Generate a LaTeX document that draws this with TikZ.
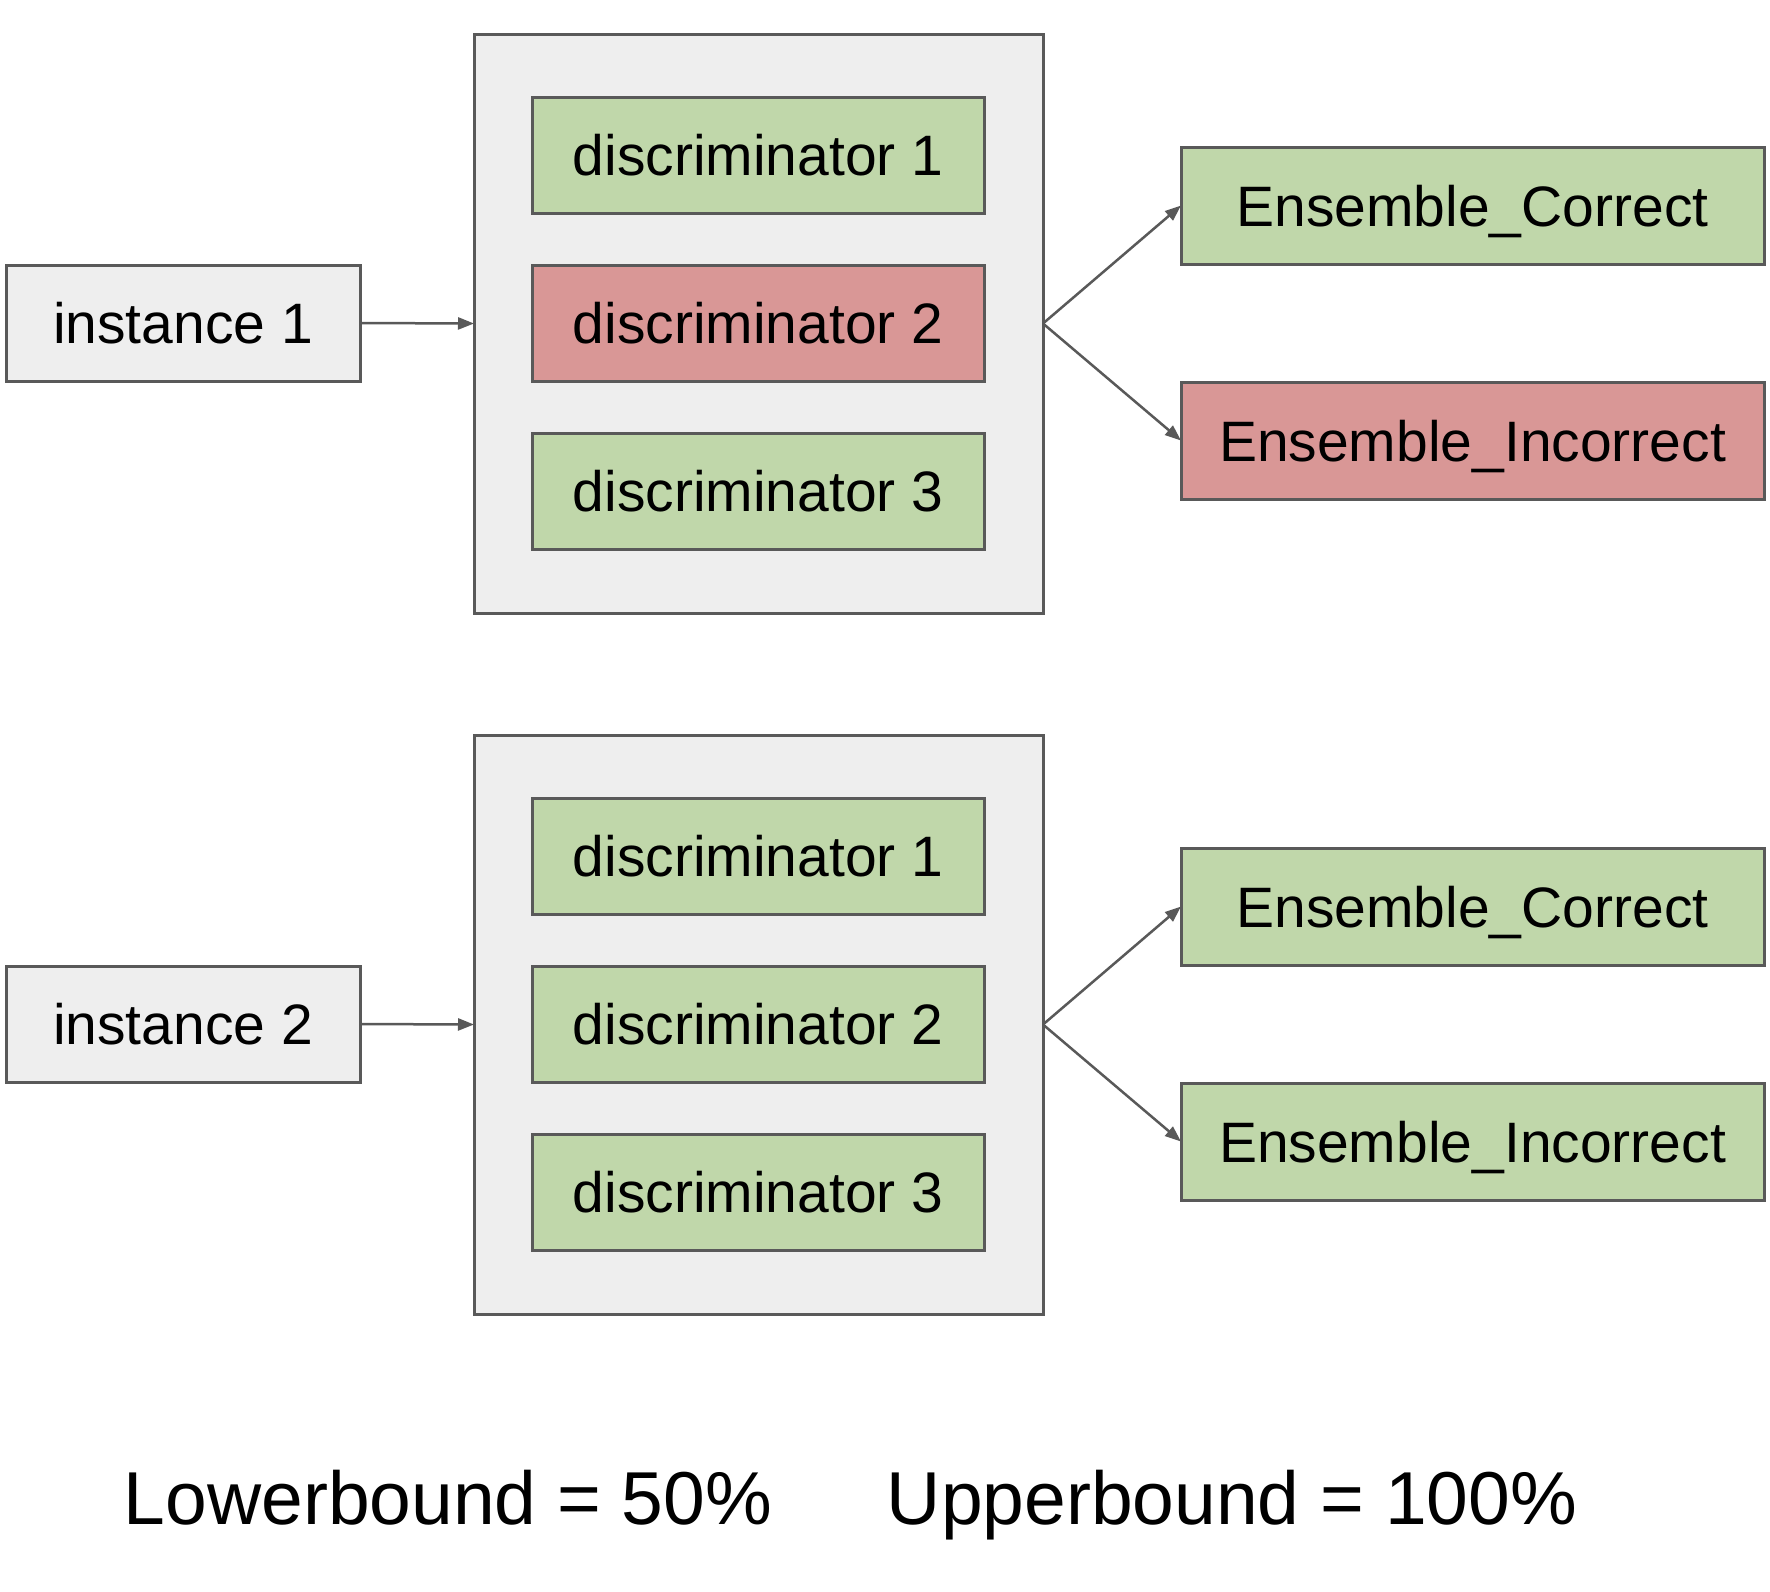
\documentclass[tikz,border=0pt]{standalone}
\usepackage{fontspec}
\setmainfont{Liberation Sans}
\usetikzlibrary{arrows.meta}
\definecolor{strokec}{HTML}{595959}
\definecolor{greenf}{HTML}{C0D7AA}
\definecolor{redf}{HTML}{D99796}
\definecolor{grayf}{HTML}{EEEEEE}
\begin{document}
\begin{tikzpicture}[x=1pt,y=-1pt,
  bx/.style={draw=strokec, line width=3pt, inner sep=0pt, outer sep=0pt,
    font=\fontsize{57}{68}\selectfont, text height=41pt, text depth=0pt, align=center},
  inst/.style={bx, fill=grayf, minimum width=354pt, minimum height=116pt},
  cont/.style={bx, fill=grayf, minimum width=569pt, minimum height=579pt},
  disc/.style={bx, minimum width=452pt, minimum height=116pt},
  ens/.style={bx, minimum width=583pt, minimum height=117pt},
  gr/.style={fill=greenf}, rd/.style={fill=redf},
  conn/.style={draw=strokec, line width=2.5pt, -{Triangle[length=16pt,width=12pt]}},
  big/.style={font=\fontsize{75}{90}\selectfont, anchor=base, inner sep=0pt}]
\useasboundingbox[fill=white] (0,0) rectangle (1770,1591);
% block 1
\node[inst] (i1) at (183,323) {instance 1};
\node[cont] (c1) at (758.5,323.5) {};
\node[disc,gr] (d11) at (758,155) {discriminator 1};
\node[disc,rd] (d12) at (758,323) {discriminator 2};
\node[disc,gr] (d13) at (758,491) {discriminator 3};
\node[ens,gr] (ec1) at (1472.5,205.5) {Ensemble\_Correct};
\node[ens,rd] (ei1) at (1472.5,440.5) {Ensemble\_Incorrect};
\draw[conn] (i1.east) -- (c1.west);
\draw[conn] (c1.east) -- (ec1.west);
\draw[conn] (c1.east) -- (ei1.west);
% block 2
\node[inst] (i2) at (183,1024) {instance 2};
\node[cont] (c2) at (758.5,1024.5) {};
\node[disc,gr] (d21) at (758,856) {discriminator 1};
\node[disc,gr] (d22) at (758,1024) {discriminator 2};
\node[disc,gr] (d23) at (758,1192) {discriminator 3};
\node[ens,gr] (ec2) at (1472.5,906.5) {Ensemble\_Correct};
\node[ens,gr] (ei2) at (1472.5,1141.5) {Ensemble\_Incorrect};
\draw[conn] (i2.east) -- (c2.west);
\draw[conn] (c2.east) -- (ec2.west);
\draw[conn] (c2.east) -- (ei2.west);
% bounds
\node[big] (lb) at (448,1524) {Lowerbound = 50\%};
\node[big] (ub) at (1232,1524) {Upperbound = 100\%};
\end{tikzpicture}
\end{document}
